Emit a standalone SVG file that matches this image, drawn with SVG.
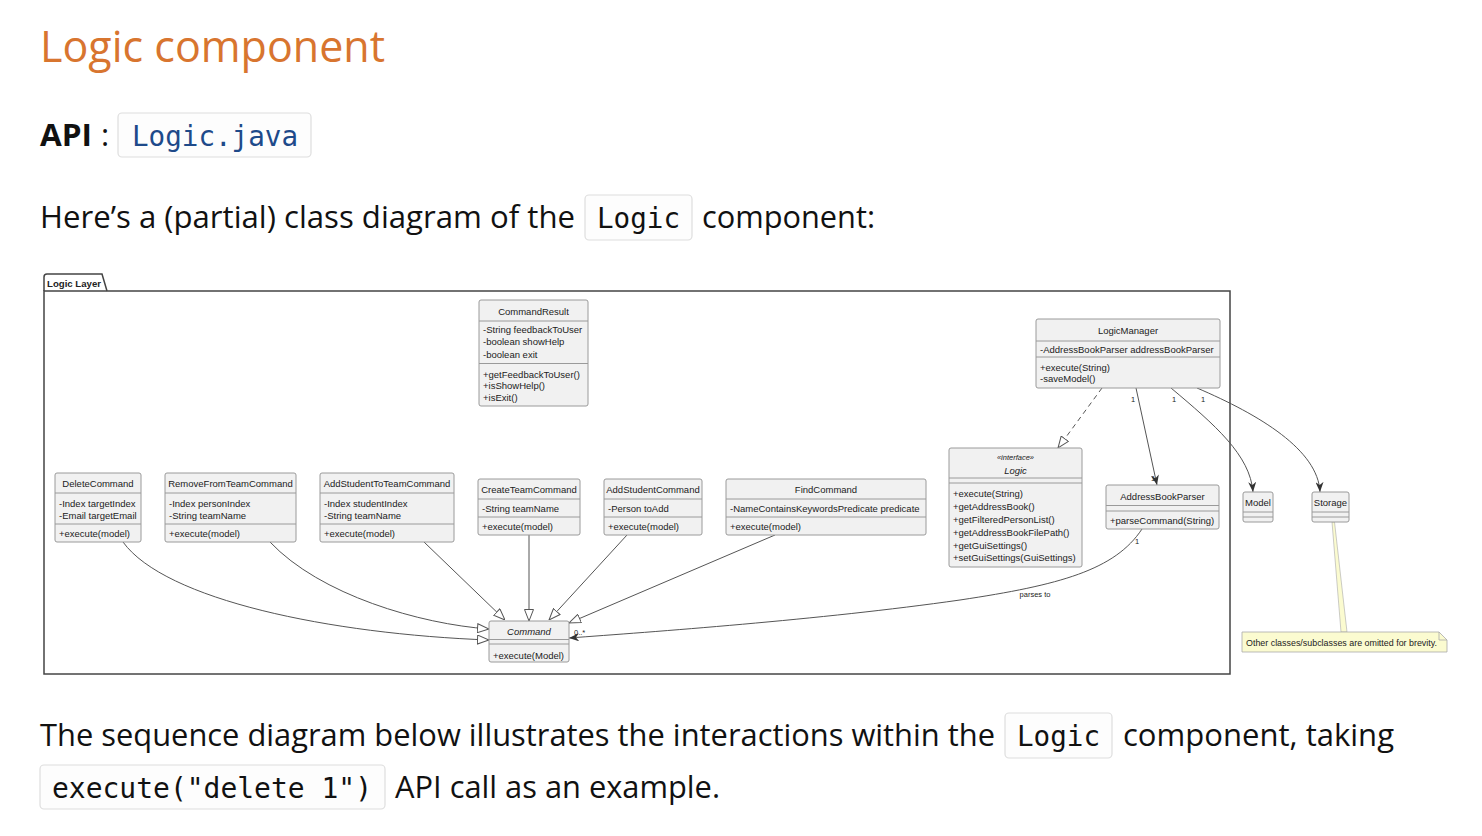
<svg xmlns="http://www.w3.org/2000/svg" width="1482" height="836" viewBox="0 0 1482 836">
  <style>
    .prose { font-family: "Open Sans", "Noto Sans", sans-serif; font-size: 31px; fill: #111; }
    .code { font-family: "DejaVu Sans Mono", "Liberation Mono", monospace; font-size: 27.5px; fill: #111; }
    .codebox { fill: #fdfdfd; stroke: #dedede; stroke-width: 1.2; }
    .box { fill: #f1f1f1; stroke: #9a9a9a; stroke-width: 1; }
    .sep { stroke: #9a9a9a; stroke-width: 1; }
    .t { font-family: "Liberation Sans", Arial, sans-serif; font-size: 9.5px; fill: #222; }
    .h { text-anchor: middle; }
    .it { font-style: italic; }
    .small { font-family: "Liberation Sans", Arial, sans-serif; font-size: 7.5px; fill: #222; }
    .edge { fill: none; stroke: #555; stroke-width: 1; }
  </style>
  <defs>
    <marker id="tri" viewBox="0 0 12 10" refX="12" refY="5" markerWidth="12" markerHeight="10" markerUnits="userSpaceOnUse" orient="auto">
      <path d="M0.5,0.5 L12,5 L0.5,9.5 Z" fill="#fff" stroke="#555" stroke-width="1"/>
    </marker>
    <marker id="arr" viewBox="0 0 10 8" refX="10" refY="4" markerWidth="10" markerHeight="8" markerUnits="userSpaceOnUse" orient="auto">
      <path d="M0,0 L10,4 L0,8 L3,4 Z" fill="#333"/>
    </marker>
  </defs>

  <rect width="1482" height="836" fill="#fff"/>

  <!-- page text -->
  <text x="40" y="62" font-family="'Open Sans', 'Noto Sans', sans-serif" font-size="43" fill="#d8752f" textLength="345" lengthAdjust="spacingAndGlyphs">Logic component</text>

  <text x="40" y="146" class="prose" font-weight="bold" textLength="52" lengthAdjust="spacingAndGlyphs">API</text>
  <text x="101" y="146" class="prose">:</text>
  <rect x="118" y="113" width="193" height="44" rx="4" class="codebox"/>
  <text x="132" y="146" class="code" fill="#1e4a8a" style="fill:#1e4a8a" textLength="166" lengthAdjust="spacingAndGlyphs">Logic.java</text>

  <text x="40" y="228" class="prose" textLength="535" lengthAdjust="spacingAndGlyphs">Here’s a (partial) class diagram of the</text>
  <rect x="585" y="195" width="107" height="45" rx="4" class="codebox"/>
  <text x="597" y="228" class="code" textLength="83" lengthAdjust="spacingAndGlyphs">Logic</text>
  <text x="702" y="228" class="prose" textLength="173" lengthAdjust="spacingAndGlyphs">component:</text>

  <text x="40" y="746" class="prose" textLength="955" lengthAdjust="spacingAndGlyphs">The sequence diagram below illustrates the interactions within the</text>
  <rect x="1005" y="713" width="107" height="45" rx="4" class="codebox"/>
  <text x="1017" y="746" class="code" textLength="83" lengthAdjust="spacingAndGlyphs">Logic</text>
  <text x="1123" y="746" class="prose" textLength="271" lengthAdjust="spacingAndGlyphs">component, taking</text>
  <rect x="40" y="765" width="345" height="44" rx="4" class="codebox"/>
  <text x="52" y="798" class="code" textLength="320" lengthAdjust="spacingAndGlyphs">execute("delete 1")</text>
  <text x="395" y="798" class="prose" textLength="325" lengthAdjust="spacingAndGlyphs">API call as an example.</text>

  <!-- package frame -->
  <g id="logic-layer">
    <path d="M44,291 L44,277 Q44,274 47,274 L102,274 L107,291" fill="none" stroke="#444" stroke-width="1.5"/>
    <rect x="44" y="291" width="1186" height="383" fill="none" stroke="#444" stroke-width="1.5"/>
    <text x="47" y="286.5" class="t" font-weight="bold" font-size="9" textLength="54" lengthAdjust="spacingAndGlyphs">Logic Layer</text>
  </g>

  <!-- connectors -->
  <g id="connectors">
    <path class="edge" d="M123,542 C165,600 330,634 489,640" marker-end="url(#tri)"/>
    <path class="edge" d="M270,542 C320,595 420,624 489,629" marker-end="url(#tri)"/>
    <path class="edge" d="M424,542 L505,620" marker-end="url(#tri)"/>
    <path class="edge" d="M529,535 L529,621" marker-end="url(#tri)"/>
    <path class="edge" d="M627,535 L549,620" marker-end="url(#tri)"/>
    <path class="edge" d="M775,535 L569,623" marker-end="url(#tri)"/>
    <path class="edge" d="M1142,529 C1115,570 1060,585 960,600 C820,620 650,632 569,638" marker-end="url(#arr)"/>
    <path class="edge" d="M1102,388 L1058,448" stroke-dasharray="5,4" marker-end="url(#tri)"/>
    <path class="edge" d="M1136,388 L1157,485" marker-end="url(#arr)"/>
    <path class="edge" d="M1171,388 C1215,425 1250,455 1253,492" marker-end="url(#arr)"/>
    <path class="edge" d="M1197,388 C1260,415 1318,450 1320,492" marker-end="url(#arr)"/>
    <polygon points="1332,522 1334.5,522 1347,632 1341,632" fill="#fbfbd0" stroke="#aaa" stroke-width="0.6"/>
    <text x="1131" y="402" class="small">1</text>
    <text x="1172" y="402" class="small">1</text>
    <text x="1201" y="402" class="small">1</text>
    <text x="1151" y="481" class="small">1</text>
    <text x="1135" y="544" class="small">1</text>
    <text x="1035" y="597" class="small h">parses to</text>
    <text x="574" y="635" class="small">0..*</text>
  </g>

  <!-- classes -->
  <g id="CommandResult">
    <rect x="479" y="300" width="109" height="106" rx="2" class="box"/>
    <text x="533.5" y="314.5" class="t h">CommandResult</text>
    <line x1="479" y1="321" x2="588" y2="321" class="sep"/>
    <text x="483" y="332.5" class="t">-String feedbackToUser</text>
    <text x="483" y="345" class="t">-boolean showHelp</text>
    <text x="483" y="357.5" class="t">-boolean exit</text>
    <line x1="479" y1="363.5" x2="588" y2="363.5" class="sep"/>
    <text x="483" y="377.5" class="t">+getFeedbackToUser()</text>
    <text x="483" y="389" class="t">+isShowHelp()</text>
    <text x="483" y="400.5" class="t">+isExit()</text>
  </g>

  <g id="LogicManager">
    <rect x="1036" y="319" width="184" height="69" rx="2" class="box"/>
    <text x="1128" y="333.5" class="t h">LogicManager</text>
    <line x1="1036" y1="341" x2="1220" y2="341" class="sep"/>
    <text x="1040" y="352.5" class="t">-AddressBookParser addressBookParser</text>
    <line x1="1036" y1="357" x2="1220" y2="357" class="sep"/>
    <text x="1040" y="370.5" class="t">+execute(String)</text>
    <text x="1040" y="382" class="t">-saveModel()</text>
  </g>

  <g id="DeleteCommand">
    <rect x="55" y="473" width="86" height="69" rx="2" class="box"/>
    <text x="98" y="486.5" class="t h">DeleteCommand</text>
    <line x1="55" y1="493" x2="141" y2="493" class="sep"/>
    <text x="59" y="506.5" class="t">-Index targetIndex</text>
    <text x="59" y="518.5" class="t">-Email targetEmail</text>
    <line x1="55" y1="524" x2="141" y2="524" class="sep"/>
    <text x="59" y="537" class="t">+execute(model)</text>
  </g>

  <g id="RemoveFromTeamCommand">
    <rect x="165" y="473" width="131" height="69" rx="2" class="box"/>
    <text x="230.5" y="486.5" class="t h">RemoveFromTeamCommand</text>
    <line x1="165" y1="493" x2="296" y2="493" class="sep"/>
    <text x="169" y="506.5" class="t">-Index personIndex</text>
    <text x="169" y="518.5" class="t">-String teamName</text>
    <line x1="165" y1="524" x2="296" y2="524" class="sep"/>
    <text x="169" y="537" class="t">+execute(model)</text>
  </g>

  <g id="AddStudentToTeamCommand">
    <rect x="320" y="473" width="134" height="69" rx="2" class="box"/>
    <text x="387" y="486.5" class="t h">AddStudentToTeamCommand</text>
    <line x1="320" y1="493" x2="454" y2="493" class="sep"/>
    <text x="324" y="506.5" class="t">-Index studentIndex</text>
    <text x="324" y="518.5" class="t">-String teamName</text>
    <line x1="320" y1="524" x2="454" y2="524" class="sep"/>
    <text x="324" y="537" class="t">+execute(model)</text>
  </g>

  <g id="CreateTeamCommand">
    <rect x="478" y="479" width="102" height="56" rx="2" class="box"/>
    <text x="529" y="493" class="t h">CreateTeamCommand</text>
    <line x1="478" y1="499" x2="580" y2="499" class="sep"/>
    <text x="482" y="512" class="t">-String teamName</text>
    <line x1="478" y1="517" x2="580" y2="517" class="sep"/>
    <text x="482" y="529.5" class="t">+execute(model)</text>
  </g>

  <g id="AddStudentCommand">
    <rect x="604" y="479" width="98" height="56" rx="2" class="box"/>
    <text x="653" y="493" class="t h">AddStudentCommand</text>
    <line x1="604" y1="499" x2="702" y2="499" class="sep"/>
    <text x="608" y="512" class="t">-Person toAdd</text>
    <line x1="604" y1="517" x2="702" y2="517" class="sep"/>
    <text x="608" y="529.5" class="t">+execute(model)</text>
  </g>

  <g id="FindCommand">
    <rect x="726" y="479" width="200" height="56" rx="2" class="box"/>
    <text x="826" y="493" class="t h">FindCommand</text>
    <line x1="726" y1="499" x2="926" y2="499" class="sep"/>
    <text x="730" y="512" class="t">-NameContainsKeywordsPredicate predicate</text>
    <line x1="726" y1="517" x2="926" y2="517" class="sep"/>
    <text x="730" y="529.5" class="t">+execute(model)</text>
  </g>

  <g id="Logic">
    <rect x="949" y="448" width="133" height="119" rx="2" class="box"/>
    <text x="1015.5" y="459.5" class="small h it" font-size="7">«interface»</text>
    <text x="1015.5" y="473.5" class="t h it">Logic</text>
    <line x1="949" y1="478" x2="1082" y2="478" class="sep"/>
    <line x1="949" y1="483" x2="1082" y2="483" class="sep"/>
    <text x="953" y="497" class="t">+execute(String)</text>
    <text x="953" y="510" class="t">+getAddressBook()</text>
    <text x="953" y="523" class="t">+getFilteredPersonList()</text>
    <text x="953" y="535.5" class="t">+getAddressBookFilePath()</text>
    <text x="953" y="548.5" class="t">+getGuiSettings()</text>
    <text x="953" y="561" class="t">+setGuiSettings(GuiSettings)</text>
  </g>

  <g id="AddressBookParser">
    <rect x="1106" y="485" width="113" height="44" rx="2" class="box"/>
    <text x="1162.5" y="500" class="t h">AddressBookParser</text>
    <line x1="1106" y1="505.5" x2="1219" y2="505.5" class="sep"/>
    <line x1="1106" y1="511" x2="1219" y2="511" class="sep"/>
    <text x="1110" y="523.5" class="t">+parseCommand(String)</text>
  </g>

  <g id="Model">
    <rect x="1243" y="492" width="30" height="30" rx="2" class="box"/>
    <text x="1258" y="506" class="t h">Model</text>
    <line x1="1243" y1="512" x2="1273" y2="512" class="sep"/>
    <line x1="1243" y1="517" x2="1273" y2="517" class="sep"/>
  </g>

  <g id="Storage">
    <rect x="1312" y="492" width="37" height="30" rx="2" class="box"/>
    <text x="1330.5" y="506" class="t h">Storage</text>
    <line x1="1312" y1="512" x2="1349" y2="512" class="sep"/>
    <line x1="1312" y1="517" x2="1349" y2="517" class="sep"/>
  </g>

  <g id="Command">
    <rect x="489" y="621" width="80" height="41" rx="2" class="box"/>
    <text x="529" y="634.5" class="t h it">Command</text>
    <line x1="489" y1="639.5" x2="569" y2="639.5" class="sep"/>
    <line x1="489" y1="644" x2="569" y2="644" class="sep"/>
    <text x="493" y="658.5" class="t">+execute(Model)</text>
  </g>

  <g id="note">
    <path d="M1242,632 L1439,632 L1447,640 L1447,652 L1242,652 Z" fill="#fbfbd0" stroke="#aaa" stroke-width="0.8"/>
    <path d="M1439,632 L1439,640 L1447,640" fill="none" stroke="#aaa" stroke-width="0.8"/>
    <text x="1246" y="645.5" class="t" font-size="8.5" textLength="191" lengthAdjust="spacingAndGlyphs">Other classes/subclasses are omitted for brevity.</text>
  </g>
</svg>
